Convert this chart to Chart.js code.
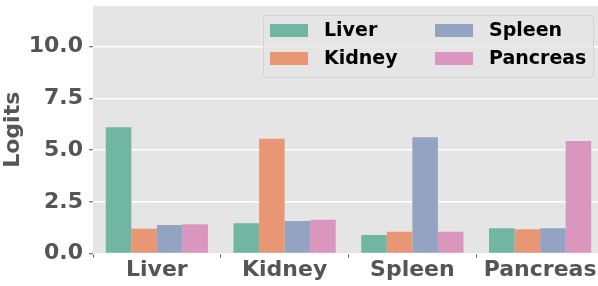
<!DOCTYPE html>
<html>
<head>
<meta charset="utf-8">
<script src="https://cdn.jsdelivr.net/npm/chart.js@4"></script>
<style>
  html, body { margin: 0; padding: 0; background: #fff; overflow: hidden; }
  #wrap { width: 604px; height: 286px; position: relative; }
</style>
</head>
<body>
<div id="wrap"><canvas id="chart"></canvas></div>
<script>
// organ categories along x
const categories = ['Liver', 'Kidney', 'Spleen', 'Pancreas'];
// one series per model head (legend entries)
const seriesNames = ['Liver', 'Kidney', 'Spleen', 'Pancreas'];
const liverVals    = [6.10, 1.46, 0.89, 1.22];
const kidneyVals   = [1.20, 5.55, 1.05, 1.17];
const spleenVals   = [1.38, 1.57, 5.62, 1.22];
const pancreasVals = [1.41, 1.63, 1.05, 5.44];
const yTicks = [0, 2.5, 5, 7.5, 10];

const colors = ['#71b6a1', '#e99675', '#95a3c3', '#db96c0'];
const font = 'DejaVu Sans';

// ── legend in two columns, drawn inside the plot ─────────
const gridLegend = {
    id: 'gridLegend',
    afterDraw(chart) {
        const c = chart.ctx;
        c.save();
        c.beginPath();
        c.roundRect(263.5, 15.5, 330, 62, 3);
        c.fillStyle = 'rgba(229,229,229,0.8)';
        c.fill();
        c.strokeStyle = '#d3d3d3';
        c.lineWidth = 1;
        c.stroke();
        c.font = 'bold 19px "' + font + '"';
        c.textBaseline = 'middle';
        c.textAlign = 'left';
        chart.data.datasets.forEach((ds, i) => {
            const col = Math.floor(i / 2), row = i % 2;
            const x = 270 + col * 165, y = 24 + row * 28;
            c.fillStyle = ds.backgroundColor;
            c.fillRect(x, y, 38, 13);
            c.fillStyle = '#000';
            c.fillText(ds.label, x + 54, y + 7);
        });
        c.restore();
    }
};

const bgPlugin = {
    id: 'plotBg',
    beforeDraw(chart) {
        const a = chart.chartArea;
        chart.ctx.save();
        chart.ctx.fillStyle = '#e5e5e5';
        chart.ctx.fillRect(a.left, a.top, a.right - a.left, a.bottom - a.top);
        chart.ctx.restore();
    }
};

const allVals = [liverVals, kidneyVals, spleenVals, pancreasVals];

new Chart(document.getElementById('chart'), {
    type: 'bar',
    data: {
        labels: categories,
        datasets: seriesNames.map((name, i) => ({
            label: name,
            data: allVals[i],
            backgroundColor: colors[i],
            borderWidth: 0,
            categoryPercentage: 0.8,
            barPercentage: 1.0
        }))
    },
    options: {
        responsive: true,
        maintainAspectRatio: false,
        animation: false,
        layout: { padding: { top: 6, right: 0, left: 0, bottom: 0 } },
        plugins: {
            legend: { display: false },
            tooltip: { enabled: false }
        },
        scales: {
            x: {
                grid: { display: true, drawOnChartArea: false, tickColor: '#555555', tickLength: 4, tickWidth: 1 },
                border: { display: false },
                ticks: {
                    color: '#555555',
                    font: { family: font, size: 22, weight: 'bold' },
                    padding: 0
                },
                afterFit: s => { s.height = 32.5; s.paddingLeft = 0; s.paddingRight = 0; }
            },
            y: {
                min: 0,
                max: 11.97,
                afterBuildTicks: s => { s.ticks = yTicks.map(v => ({ value: v })); },
                grid: { color: '#ffffff', lineWidth: 1.5, tickColor: '#555555', tickLength: 4, tickWidth: 1 },
                border: { display: false },
                ticks: {
                    color: '#555555',
                    font: { family: font, size: 22, weight: 'bold' },
                    padding: 6,
                    callback: v => v.toFixed(1)
                },
                title: {
                    display: true,
                    text: 'Logits',
                    color: '#555555',
                    font: { family: font, size: 22, weight: 'bold' },
                    padding: { top: 0, bottom: 0 }
                },
                afterFit: s => { s.width = 93; s.paddingTop = 0; s.paddingBottom = 0; }
            }
        }
    },
    plugins: [bgPlugin, gridLegend]
});
</script>
</body>
</html>
